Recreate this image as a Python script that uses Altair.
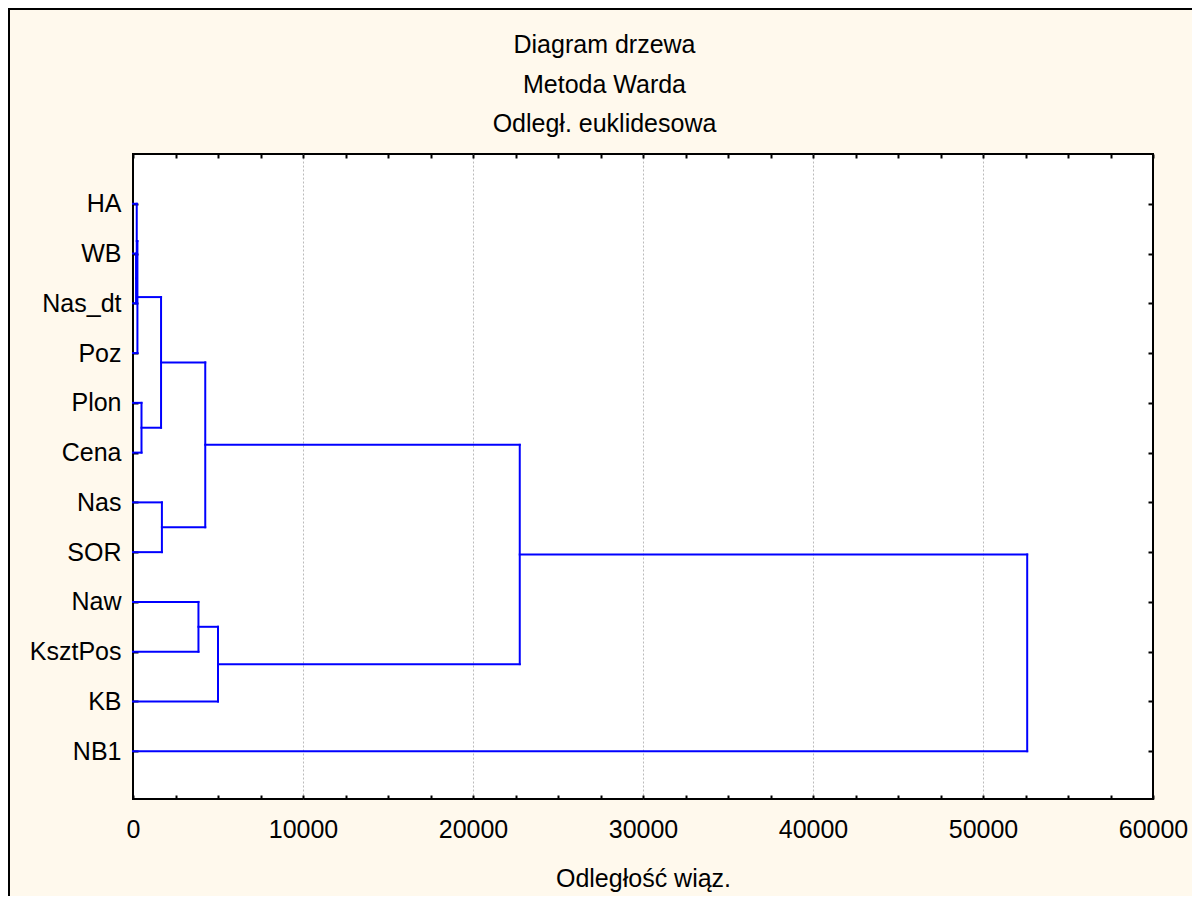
import altair as alt
import pandas as pd

# ---- data ----
leaves = ["HA", "WB", "Nas_dt", "Poz", "Plon", "Cena", "Nas", "SOR",
          "Naw", "KsztPos", "KB", "NB1"]
# agglomeration steps (cluster k is referred to as "c{k}")
merge_left = ["WB", "HA", "c1", "Plon", "c2", "Nas", "c4", "Naw", "c7", "c6", "c9"]
merge_right = ["Nas_dt", "c0", "Poz", "Cena", "c3", "SOR", "c5", "KsztPos", "KB", "c8", "NB1"]
merge_height = [180, 220, 260, 500, 1650, 1700, 4250, 3850, 5000, 22750, 52600]

x_ticks = [0, 2500, 5000, 7500, 10000, 12500, 15000, 17500, 20000, 22500, 25000,
           27500, 30000, 32500, 35000, 37500, 40000, 42500, 45000, 47500, 50000,
           52500, 55000, 57500, 60000]
y_ticks = list(range(1, len(leaves) + 1))
title_lines = ["Diagram drzewa", "Metoda Warda", "Odległ. euklidesowa"]
x_title = "Odległość wiąz."

# ---- build dendrogram segments ----
pos = {name: i + 1 for i, name in enumerate(leaves)}
hgt = {name: 0 for name in leaves}
segs = []
for k, (l, r, h) in enumerate(zip(merge_left, merge_right, merge_height)):
    yl, yr = pos[l], pos[r]
    segs.append(dict(x=hgt[l], x2=h, y=yl, y2=yl))
    segs.append(dict(x=hgt[r], x2=h, y=yr, y2=yr))
    segs.append(dict(x=h, x2=h, y=yl, y2=yr))
    pos[f"c{k}"] = (yl + yr) / 2
    hgt[f"c{k}"] = h
df = pd.DataFrame(segs)
one = pd.DataFrame({"k": [0]})

FONT = "Liberation Sans"
FS = 25
xscale = alt.Scale(domain=[0, 60000], nice=False, zero=True)
yscale = alt.Scale(domain=[0, 12.96], reverse=True, nice=False, zero=False)
ylabel_expr = "[" + ",".join("'" + s + "'" for s in leaves) + "][datum.value - 1]"

tree = alt.Chart(df).mark_rule(color="#0000FF", strokeWidth=2, strokeCap="square").encode(
    x=alt.X("x:Q", scale=xscale, axis=alt.Axis(
        orient="bottom", values=x_ticks, format="d",
        labelExpr="datum.value % 10000 === 0 ? datum.label : ''",
        offset=-4, tickSize=4, tickColor="black", tickWidth=2, domain=False,
        labelPadding=18, labelFont=FONT, labelFontSize=FS, labelColor="black",
        labelFlush=False, labelOverlap=False,
        grid=True, gridColor="#BBBBBB", gridDash=[2, 2], gridWidth=1,
        gridOpacity={"condition": {"test": "datum.value % 10000 === 0 && datum.value > 0 && datum.value < 60000",
                                   "value": 1}, "value": 0},
        title=x_title, titleFont=FONT, titleFontSize=FS, titleFontWeight="normal",
        titleColor="black", titleY=71, titleBaseline="top")),
    x2="x2:Q",
    y=alt.Y("y:Q", scale=yscale, axis=alt.Axis(
        orient="left", values=y_ticks, labelExpr=ylabel_expr,
        offset=-5, tickSize=5, tickColor="black", tickWidth=2, domain=False, grid=False,
        labelPadding=12, labelFont=FONT, labelFontSize=FS, labelColor="black",
        labelFlush=False, labelOverlap=False, title=None)),
    y2="y2:Q",
)

frame = alt.Chart(df).mark_rule(opacity=0).encode(
    x=alt.X("x:Q", scale=xscale, axis=alt.Axis(
        orient="top", values=x_ticks, offset=-4, tickSize=4, tickColor="black",
        tickWidth=2, labels=False, domain=False, grid=False, title=None)),
    y=alt.Y("y:Q", scale=yscale, axis=alt.Axis(
        orient="right", values=y_ticks, offset=-5, tickSize=5, tickColor="black",
        tickWidth=2, labels=False, domain=False, grid=False, title=None)),
)

title_mark = alt.Chart(one).mark_text(
    text=title_lines, font=FONT, fontSize=FS, lineHeight=39.5,
    align="center", baseline="top", color="black"
).encode(x=alt.value(471.5), y=alt.value(-121))

border_top = alt.Chart(one).mark_rule(color="black", strokeWidth=2).encode(
    x=alt.value(-126), x2=alt.value(1100), y=alt.value(-145))
border_left = alt.Chart(one).mark_rule(color="black", strokeWidth=2).encode(
    x=alt.value(-124), y=alt.value(-146), y2=alt.value(800))

chart = alt.layer(tree, frame, title_mark, border_top, border_left).resolve_axis(
    x="independent", y="independent"
).properties(
    width=1020, height=645,
    padding={"left": 125, "top": 146, "right": 39, "bottom": 97},
    autosize="none",
    background="#FFF9ED",
).configure_view(fill="white", stroke="black", strokeWidth=2)

chart.save("out.html", embed_options={"renderer": "svg", "actions": False})
